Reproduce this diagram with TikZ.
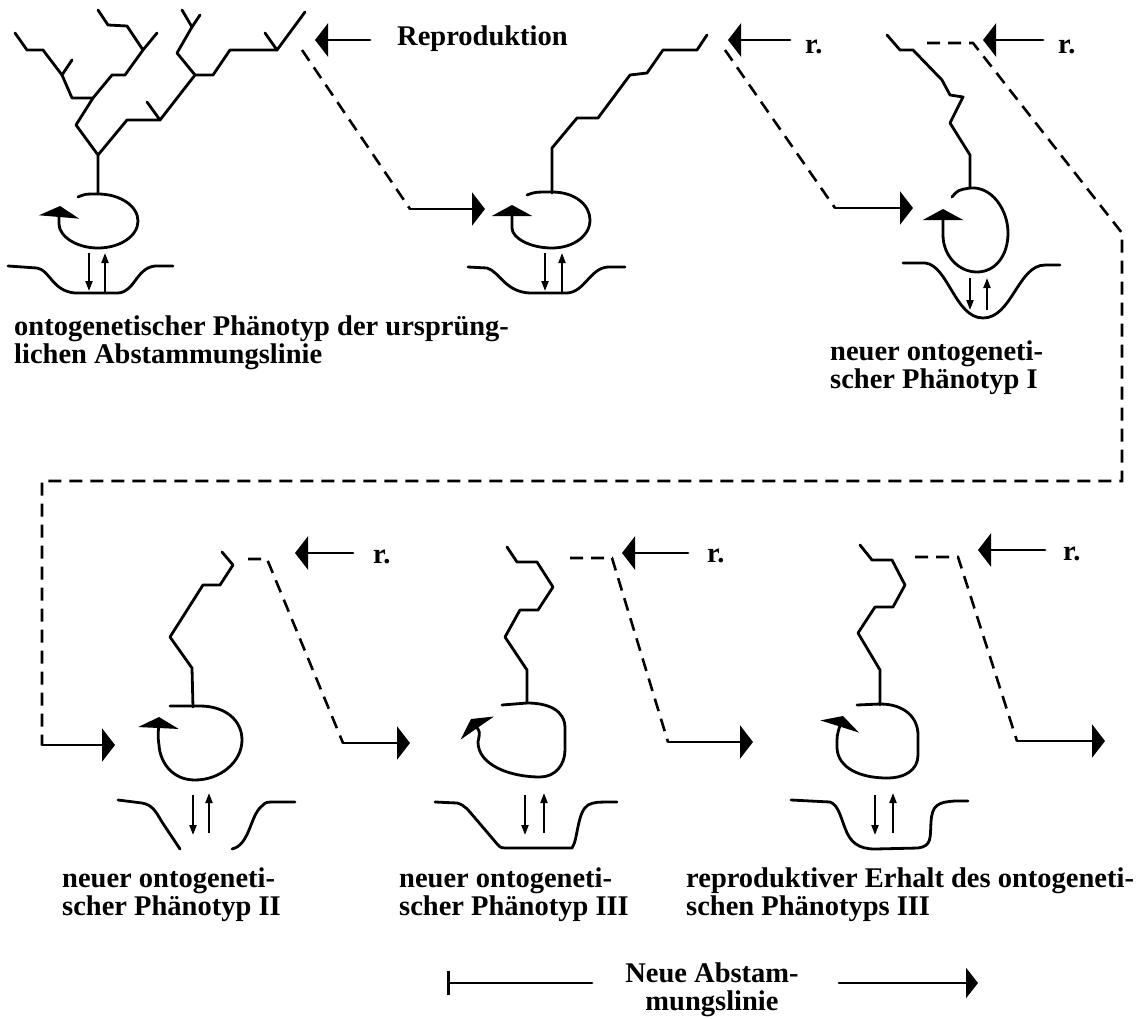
\documentclass[tikz,border=0pt]{standalone}
\usepackage{fontspec}
\setmainfont{Liberation Serif}
\usetikzlibrary{arrows.meta}

\begin{document}
\begin{tikzpicture}[x=1pt,y=-1pt,
    ink/.style={line width=2.8pt,line cap=round,line join=round},
    dashline/.style={line width=2.6pt,dash pattern=on 13pt off 8pt},
    bigtip/.style={-{Triangle[length=13pt,width=33pt]}},
    looptip/.style={-{Triangle[length=11pt,width=40pt]}},
    smalltip/.style={line width=2pt,-{Triangle[length=10pt,width=7pt]}},
    lbl/.style={font=\fontsize{28.5}{28}\selectfont\bfseries,inner sep=0pt,align=left}]
  \fill[white] (0,0) rectangle (1143,1018);
  \useasboundingbox (0,0) rectangle (1143,1018);

  % trees
  \draw[ink] (98,193) -- (98,155) -- (76,125) -- (93,98) -- (112,75) -- (125,75) -- (143,50) -- (157,33);
  \draw[ink] (143,50) -- (127,26) -- (108,25) -- (98,10);
  \draw[ink] (93,98) -- (72,98) -- (62,75) -- (43,50) -- (27,50) -- (15,33);
  \draw[ink] (62,75) -- (72,60);
  \draw[ink] (98,155) -- (127,120) -- (160,120) -- (195,75) -- (213,75) -- (230,50) -- (277,50) -- (305,12);
  \draw[ink] (160,120) -- (147,102);
  \draw[ink] (195,75) -- (177,53) -- (192,27) -- (182,10);
  \draw[ink] (192,27) -- (200,15);
  \draw[ink] (277,50) -- (265,33);
  \draw[ink] (552,193) -- (552,148) -- (577,118) -- (598,118) -- (630,75) -- (647,73) -- (663,50) -- (697,50) -- (707,35);
  \draw[ink] (970,188) -- (970,155) -- (950,123) -- (963,97) -- (950,95) -- (942,80) -- (913,50) -- (900,50) -- (887,35);
  \draw[ink] (193,707) -- (192,668) -- (170,637) -- (203,585) -- (220,585) -- (233,565) -- (222,552);
  \draw[ink] (527,703) -- (527,670) -- (505,637) -- (520,610) -- (538,610) -- (553,587) -- (537,562) -- (517,562) -- (507,547);
  \draw[ink] (880,705) -- (880,670) -- (858,633) -- (875,607) -- (893,607) -- (905,585) -- (892,560) -- (872,560) -- (860,545);

  % loops
  \draw[ink,looptip] (78,197) .. controls (85,194) .. (98,194) .. controls (120,194) and (138,206) .. (138,221)
    .. controls (138,236) and (120,248) .. (98,248) .. controls (76,248) and (59,236) .. (59,224) .. controls (59,218) .. (60,206);
  \draw[ink,looptip] (527,195) .. controls (535,192) .. (552,192) .. controls (575,192) and (590,205) .. (590,220)
    .. controls (590,236) and (573,248) .. (552,248) .. controls (530,248) and (512,238) .. (512,228) .. controls (512,222) .. (512,205);
  \draw[ink,looptip] (952,197) .. controls (958,190) .. (970,188) .. controls (992,186) and (1008,210) .. (1008,233)
    .. controls (1008,256) and (995,272) .. (977,272) .. controls (958,272) and (943,255) .. (943,235) .. controls (943,228) .. (943,209);
  \draw[ink,looptip] (170,706) -- (200,706) .. controls (225,706) and (242,720) .. (242,740)
    .. controls (242,762) and (220,780) .. (195,780) .. controls (172,780) and (160,762) .. (159,745) .. controls (158,738) .. (159,717);
  \draw[ink,looptip] (502,705) -- (527,703) .. controls (548,703) and (565,710) .. (565,728) -- (565,750)
    .. controls (565,765) and (555,777) .. (540,777) .. controls (510,777) and (478,765) .. (478,742) .. controls (480,732) .. (471,719);
  \draw[ink,looptip] (857,705) -- (880,704) .. controls (905,704) and (918,718) .. (918,735) -- (918,755)
    .. controls (918,770) and (905,778) .. (887,778) .. controls (860,778) and (838,768) .. (837,748) .. controls (837,735) .. (843,716);

  % basins
  \draw[ink] (8,266) -- (37,268) .. controls (50,270) and (52,291) .. (75,293) -- (118,293) .. controls (135,292) and (136,268) .. (155,266) -- (173,266);
  \draw[ink] (468,267) -- (487,268) .. controls (500,272) and (505,292) .. (530,293) -- (567,293) .. controls (585,292) and (590,268) .. (608,267) -- (625,267);
  \draw[ink] (903,263) -- (925,263) .. controls (948,265) and (955,318) .. (983,318) .. controls (1012,318) and (1018,265) .. (1045,265) -- (1060,265);
  \draw[ink] (118,800) -- (142,803) .. controls (152,805) and (155,810) .. (162,822) -- (180,849);
  \draw[ink] (232,849) .. controls (250,845) and (250,815) .. (262,806) .. controls (266,802) .. (276,802) -- (295,802);
  \draw[ink] (435,802) -- (457,803) .. controls (465,805) and (468,810) .. (475,818) -- (498,845) .. controls (501,848) .. (510,848) -- (572,848)
    .. controls (578,840) and (577,812) .. (588,805) .. controls (595,802) .. (617,802);
  \draw[ink] (791,800) -- (830,802) .. controls (838,805) and (840,815) .. (845,828) .. controls (850,842) and (858,849) .. (875,849) -- (918,848)
    .. controls (932,846) and (930,838) .. (931,822) .. controls (932,805) and (938,802) .. (955,801) -- (968,801);

  % small arrows
  \draw[smalltip] (89,253) -- (89,291);
  \draw[smalltip] (105,293) -- (105,253);
  \draw[smalltip] (545,253) -- (545,291);
  \draw[smalltip] (562,293) -- (562,253);
  \draw[smalltip] (970,278) -- (970,310);
  \draw[smalltip] (987,310) -- (987,278);
  \draw[smalltip] (193,795) -- (193,835);
  \draw[smalltip] (209,833) -- (209,793);
  \draw[smalltip] (525,795) -- (525,835);
  \draw[smalltip] (544,833) -- (544,793);
  \draw[smalltip] (875,795) -- (875,835);
  \draw[smalltip] (893,833) -- (893,793);

  % coordinates
  \coordinate (repro) at (370,40);   \coordinate (reproTip) at (315,40);
  \coordinate (rB) at (790,40);      \coordinate (rBTip) at (728,40);
  \coordinate (rC) at (1043,40);     \coordinate (rCTip) at (983,40);
  \coordinate (rD) at (353,553);     \coordinate (rDTip) at (295,553);
  \coordinate (rE) at (688,553);     \coordinate (rETip) at (622,553);
  \coordinate (rF) at (1045,550);    \coordinate (rFTip) at (978,550);
  \coordinate (ab0) at (302,50);  \coordinate (ab1) at (410,209);  \coordinate (ab2) at (485,209);
  \coordinate (bc0) at (725,50);  \coordinate (bc1) at (835,208);  \coordinate (bc2) at (913,208);
  \coordinate (cd0) at (927,43);  \coordinate (cd1) at (973,43);   \coordinate (cd2) at (1122,233);
  \coordinate (cd3) at (1122,481); \coordinate (cd4) at (42,481);  \coordinate (cd5) at (42,745);
  \coordinate (cd6) at (115,745);
  \coordinate (de0) at (248,559); \coordinate (de1) at (267,559);  \coordinate (de2) at (343,743);  \coordinate (de3) at (410,743);
  \coordinate (ef0) at (570,558); \coordinate (ef1) at (612,558);  \coordinate (ef2) at (668,742);  \coordinate (ef3) at (753,742);
  \coordinate (fg0) at (915,557); \coordinate (fg1) at (958,557);  \coordinate (fg2) at (1017,741); \coordinate (fg3) at (1105,741);
  \coordinate (legL) at (447,983); \coordinate (legM) at (592,983);
  \coordinate (legR) at (839,983); \coordinate (legTip) at (978,983);

  % labels
  \node[lbl,anchor=base west] (repLbl) at (397,45) {Reproduktion};
  \node[lbl,anchor=base west] (rLblB) at (805,53) {r.};
  \node[lbl,anchor=base west] (rLblC) at (1058,53) {r.};
  \node[lbl,anchor=base west] (rLblD) at (373,563) {r.};
  \node[lbl,anchor=base west] (rLblE) at (707,562) {r.};
  \node[lbl,anchor=base west] (rLblF) at (1063,560) {r.};
  \node[lbl,anchor=north west] (phA) at (14,316) {ontogenetischer Phänotyp der ursprüng-\\lichen Abstammungslinie};
  \node[lbl,anchor=north west] (phI) at (830,341) {neuer ontogeneti-\\scher Phänotyp I};
  \node[lbl,anchor=north west] (phII) at (62,868) {neuer ontogeneti-\\scher Phänotyp II};
  \node[lbl,anchor=north west] (phIII) at (399,868) {neuer ontogeneti-\\scher Phänotyp III};
  \node[lbl,anchor=north west] (phKeep) at (686,868) {reproduktiver Erhalt des ontogeneti-\\schen Phänotyps III};
  \node[lbl,align=center,anchor=north] (legLbl) at (712,963) {Neue Abstam-\\mungslinie};

  % edges
  \draw[ink,bigtip] (repro) -- (reproTip);
  \draw[ink,bigtip] (rB) -- (rBTip);
  \draw[ink,bigtip] (rC) -- (rCTip);
  \draw[ink,bigtip] (rD) -- (rDTip);
  \draw[ink,bigtip] (rE) -- (rETip);
  \draw[ink,bigtip] (rF) -- (rFTip);
  \draw[dashline] (ab0) -- (ab1);
  \draw[ink,bigtip] (ab1) -- (ab2);
  \draw[dashline] (bc0) -- (bc1);
  \draw[ink,bigtip] (bc1) -- (bc2);
  \draw[dashline] (cd0) -- (cd1) -- (cd2) -- (cd3) -- (cd4) -- (cd5);
  \draw[ink,bigtip] (cd5) -- (cd6);
  \draw[dashline] (de0) -- (de1) -- (de2);
  \draw[ink,bigtip] (de2) -- (de3);
  \draw[dashline] (ef0) -- (ef1) -- (ef2);
  \draw[ink,bigtip] (ef2) -- (ef3);
  \draw[dashline] (fg0) -- (fg1) -- (fg2);
  \draw[ink,bigtip] (fg2) -- (fg3);
  \draw[ink,{Bar[width=24pt]}-] (legL) -- (legM);
  \draw[ink,-{Triangle[length=12pt,width=30pt]}] (legR) -- (legTip);
\end{tikzpicture}
\end{document}
